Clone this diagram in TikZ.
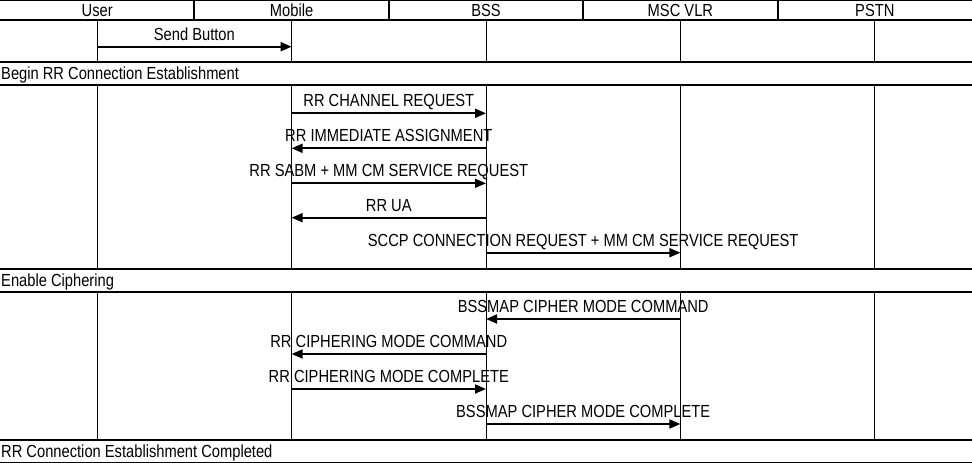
\documentclass[tikz,border=0pt]{standalone}
\usepackage{fontspec}
\setmainfont{Liberation Sans}[FakeStretch=0.84]
\usetikzlibrary{arrows.meta}

\begin{document}
\begin{tikzpicture}[x=1pt, y=-1pt,
		every node/.style={font=\fontsize{17.5}{20}\selectfont, inner sep=0pt},
		lifeline/.style={line width=1pt},
		bar/.style={line width=2pt},
		msg/.style={line width=1.8pt, -{Triangle[length=11pt, width=9pt]}},
		lbl/.style={anchor=base, yshift=6.6pt},
		section/.style={anchor=base west}]
		\useasboundingbox (0,0) rectangle (972,463);
		% header row
		\draw[line width=1pt] (0,0.5) -- (972,0.5);
		\draw[bar] (0,20) -- (972,20);
		\foreach \name/\txt [count=\i] in {user/User, mobile/Mobile, bss/BSS, msc/MSC VLR, pstn/PSTN}
		{
			\node[anchor=base] (h-\name) at ({(\i-0.5)*194.4}, 16.7) {\txt};
			\coordinate (\name) at ({(\i-0.5)*194.4}, 20);
		}
		\foreach \i in {1,...,4}
			\draw[bar] ({\i*194.4},0) -- ({\i*194.4},20);
		% lifelines
		\foreach \name in {user, mobile, bss, msc, pstn}
		{
			\draw[lifeline] (\name |- 0,20) -- (\name |- 0,62);
			\draw[lifeline] (\name |- 0,85) -- (\name |- 0,269);
			\draw[lifeline] (\name |- 0,292) -- (\name |- 0,440);
		}
		% section bars
		\foreach \top/\txt/\id in {62/Begin RR Connection Establishment/begin, 269/Enable Ciphering/cipher, 440/RR Connection Establishment Completed/done}
		{
			\draw[bar] (0,\top) -- (972,\top);
			\draw[bar] (0,\top+22.5) -- (972,\top+22.5);
			\node[section] (s-\id) at (1,\top+17.5) {\txt};
		}
		% messages
		\draw[msg] (user |- 0,46.7) -- node[lbl]{Send Button} (mobile |- 0,46.7);
		\draw[msg] (mobile |- 0,113.3) -- node[lbl]{RR CHANNEL REQUEST} (bss |- 0,113.3);
		\draw[msg] (bss |- 0,148.3) -- node[lbl]{RR IMMEDIATE ASSIGNMENT} (mobile |- 0,148.3);
		\draw[msg] (mobile |- 0,183.3) -- node[lbl]{RR SABM + MM CM SERVICE REQUEST} (bss |- 0,183.3);
		\draw[msg] (bss |- 0,217.7) -- node[lbl]{RR UA} (mobile |- 0,217.7);
		\draw[msg] (bss |- 0,252.7) -- node[lbl]{SCCP CONNECTION REQUEST + MM CM SERVICE REQUEST} (msc |- 0,252.7);
		\draw[msg] (msc |- 0,319) -- node[lbl]{BSSMAP CIPHER MODE COMMAND} (bss |- 0,319);
		\draw[msg] (bss |- 0,354) -- node[lbl]{RR CIPHERING MODE COMMAND} (mobile |- 0,354);
		\draw[msg] (mobile |- 0,389) -- node[lbl]{RR CIPHERING MODE COMPLETE} (bss |- 0,389);
		\draw[msg] (bss |- 0,424) -- node[lbl]{BSSMAP CIPHER MODE COMPLETE} (msc |- 0,424);
	\end{tikzpicture}
\end{document}
